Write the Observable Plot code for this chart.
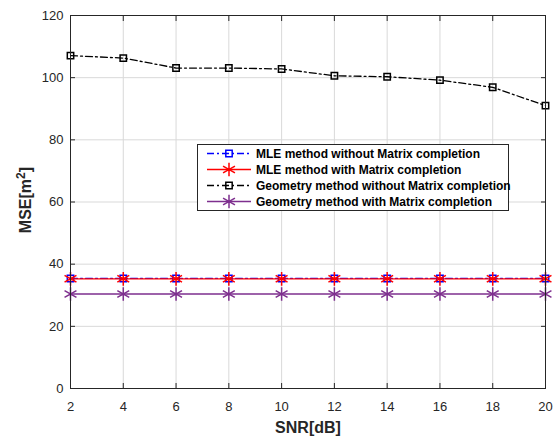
<!DOCTYPE html>
<html><head><meta charset="utf-8">
<script src="https://cdn.jsdelivr.net/npm/d3@7"></script>
<script src="https://cdn.jsdelivr.net/npm/@observablehq/plot@0.6"></script>
<style>body{margin:0;background:#fff;} #chart{position:relative;width:556px;height:436px;}</style>
</head><body><div id="chart"></div>
<script>
const snr = [2,4,6,8,10,12,14,16,18,20];
const mleWithout = [35.4,35.4,35.4,35.4,35.4,35.4,35.4,35.4,35.4,35.4];
const mleWith    = [35.3,35.3,35.3,35.3,35.3,35.3,35.3,35.3,35.3,35.3];
const geoWithout = [107.1,106.3,103.1,103.1,102.8,100.6,100.3,99.2,96.9,91.0];
const geoWith    = [30.4,30.4,30.4,30.4,30.4,30.4,30.4,30.4,30.4,30.4];
const seriesNames = ["MLE method without Matrix completion","MLE method with Matrix completion","Geometry method without Matrix completion","Geometry method with Matrix completion"];
const xTicks = [2,4,6,8,10,12,14,16,18,20];
const yTicks = [0,20,40,60,80,100,120];

const styles = [
  {color:"#0000ff", dash:"7,3,2,3", symbol:"square", r:3.6},
  {color:"#ff0000", dash:null, symbol:"asterisk", r:6.5},
  {color:"#000000", dash:"7,3,2,3", symbol:"square", r:3.6},
  {color:"#7e2f8e", dash:null, symbol:"asterisk", r:6.5}
];
const values = [mleWithout, mleWith, geoWithout, geoWith];
const rows = values.map((v,i)=>snr.map((x,j)=>({x, y:v[j], s:i})));

const marks = [
  Plot.gridX(xTicks, {stroke:"#d9d9d9", strokeOpacity:1}),
  Plot.gridY(yTicks, {stroke:"#d9d9d9", strokeOpacity:1}),
];
rows.forEach((d,i)=>{
  const st = styles[i];
  marks.push(Plot.line(d,{x:"x",y:"y",stroke:st.color,strokeWidth:1.3,strokeDasharray:st.dash}));
  marks.push(Plot.dot(d,{x:"x",y:"y",symbol:()=>st.symbol,stroke:st.color,fill:"none",r:st.r,strokeWidth:1.5}));
});
marks.push(
  Plot.axisX(xTicks,{anchor:"bottom",tickSize:-5,tickPadding:18,fontSize:13,color:"#262626",label:null}),
  Plot.axisX(xTicks,{anchor:"top",tickSize:-5,tickFormat:()=>"",color:"#262626",label:null}),
  Plot.axisY(yTicks,{anchor:"left",tickSize:-5,tickPadding:12,fontSize:13,color:"#262626",label:null}),
  Plot.axisY(yTicks,{anchor:"right",tickSize:-5,tickFormat:()=>"",color:"#262626",label:null}),
  Plot.frame({stroke:"#262626",strokeWidth:1})
);

const svg = Plot.plot({
  width:556, height:436,
  marginLeft:70, marginRight:11, marginTop:15, marginBottom:48,
  style:{fontFamily:"'Liberation Sans', Arial, sans-serif", background:"#fff", overflow:"visible"},
  x:{domain:[2,20], type:"linear"},
  y:{domain:[0,120]},
  symbol:{type:"identity"},
  marks
});
document.getElementById("chart").appendChild(svg);

const g = d3.select(svg);
// axis labels
g.append("text").attr("x",308).attr("y",433).attr("text-anchor","middle")
  .attr("font-family","'Liberation Sans', Arial, sans-serif").attr("font-weight","bold").attr("font-size",16).attr("fill","#262626")
  .text("SNR[dB]");
const yl = g.append("text").attr("transform","translate(31,200) rotate(-90)").attr("text-anchor","middle")
  .attr("font-family","'Liberation Sans', Arial, sans-serif").attr("font-weight","bold").attr("font-size",16).attr("fill","#262626");
yl.append("tspan").text("MSE[m");
yl.append("tspan").attr("dy",-6).attr("font-size",12).text("2");
yl.append("tspan").attr("dy",6).text("]");

// legend
const lg = g.append("g");
lg.append("rect").attr("x",197.5).attr("y",144.5).attr("width",311).attr("height",66)
  .attr("fill","#fff").attr("stroke","#262626").attr("stroke-width",1);
seriesNames.forEach((name,i)=>{
  const st = styles[i];
  const yy = 153.5 + i*16;
  lg.append("line").attr("x1",207).attr("x2",251).attr("y1",yy).attr("y2",yy)
    .attr("stroke",st.color).attr("stroke-width",1.3).attr("stroke-dasharray",st.dash);
  const sym = st.symbol==="square" ? d3.symbolSquare : d3.symbolAsterisk;
  lg.append("path").attr("transform",`translate(229,${yy})`)
    .attr("d",d3.symbol(sym, st.r*st.r*Math.PI)())
    .attr("fill","none").attr("stroke",st.color).attr("stroke-width",1.5);
  lg.append("text").attr("x",256).attr("y",yy).attr("dy","0.35em").attr("text-anchor","start")
    .attr("font-family","'Liberation Sans', Arial, sans-serif").attr("font-weight","bold").attr("font-size",12).attr("fill","#000")
    .text(name);
});
</script></body></html>
